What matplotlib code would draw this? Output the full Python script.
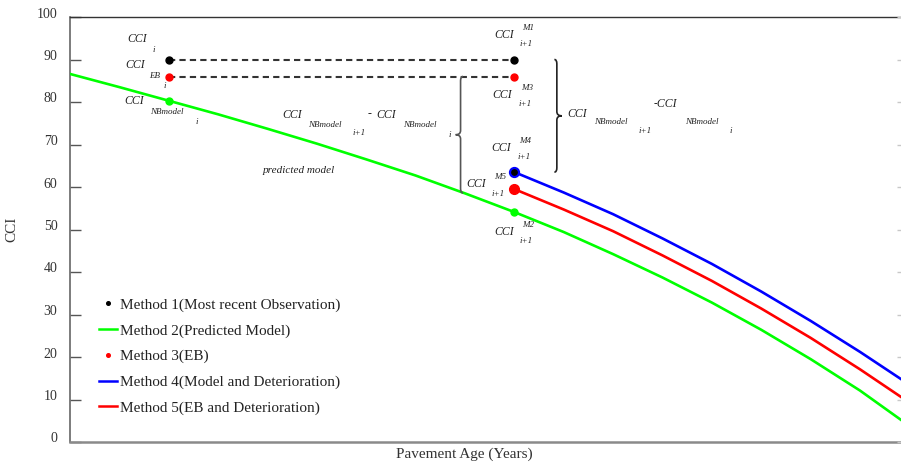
import matplotlib
matplotlib.use("Agg")
import matplotlib.pyplot as plt
from matplotlib.lines import Line2D
from matplotlib.path import Path
from matplotlib.patches import PathPatch
from matplotlib.transforms import ScaledTranslation

plt.rcParams["font.family"] = ["Liberation Serif", "DejaVu Serif"]

# ---- data -------------------------------------------------------------
# predicted (NB) model curve, Method 2
age_model = [0, 1, 2, 3, 4, 5, 6, 7, 8, 9, 10, 11, 12, 13, 14, 15, 16, 16.83]
cci_model = [86.6, 83.5, 80.3, 77.1, 73.7, 70.2, 66.5, 62.7, 58.5, 54.1,
             49.4, 44.2, 38.7, 32.8, 26.4, 19.5, 12.1, 5.2]

# deterioration curves starting at the i+1 inspection
age_det = [9, 10, 11, 12, 13, 14, 15, 16, 16.83]
cci_m4 = [63.5, 58.7, 53.6, 47.9, 41.9, 35.4, 28.5, 21.2, 14.8]  # model and deterioration
cci_m5 = [59.5, 54.7, 49.6, 43.9, 37.9, 31.4, 24.5, 17.1, 10.6]  # EB and deterioration

age_i, age_next = 2, 9
cci_obs_i = 90          # most recent observation
cci_eb_i = 86           # empirical Bayes estimate
cci_model_i = cci_model[2]
cci_model_next = cci_model[9]

y_ticks = [0, 10, 20, 30, 40, 50, 60, 70, 80, 90, 100]
legend_labels = [
    "Method 1(Most recent Observation)",
    "Method 2(Predicted Model)",
    "Method 3(EB)",
    "Method 4(Model and Deterioration)",
    "Method 5(EB and Deterioration)",
]

GREEN, BLUE, RED = "#00ff00", "#0000ff", "#ff0000"

# ---- figure -----------------------------------------------------------
fig = plt.figure(figsize=(9.01, 4.67), dpi=100)
ax = fig.add_axes([70 / 901, 1 - 442 / 467, 831 / 901, 425 / 467])
ax.set_xlim(0, 16.83)
ax.set_ylim(0, 100)

ax.plot(age_model, cci_model, color=GREEN, lw=1.9, zorder=3)
ax.plot(age_det, cci_m4, color=BLUE, lw=1.9, zorder=3)
ax.plot(age_det, cci_m5, color=RED, lw=1.9, zorder=3)

# dashed carry-over of observation and EB value
dash = dict(color="#333333", lw=1.5, linestyle=(0, (3, 2)), zorder=2)
ax.plot([age_i, age_next], [cci_obs_i, cci_obs_i], **dash)
ax.plot([age_i, age_next], [cci_eb_i, cci_eb_i], **dash)

# points
ax.plot(age_i, cci_obs_i, "o", color="black", ms=5, zorder=5)
ax.plot(age_i, cci_eb_i, "o", color=RED, ms=5, zorder=5)
ax.plot(age_i, cci_model_i, "o", color=GREEN, ms=5, zorder=5)
ax.plot(age_next, cci_obs_i, "o", color="black", ms=5, zorder=5)
ax.plot(age_next, cci_eb_i, "o", color=RED, ms=5, zorder=5)
ax.plot(age_next, cci_m4[0], "o", mfc="black", mec=BLUE, mew=1.6, ms=6.5, zorder=5)
ax.plot(age_next, cci_m5[0], "o", color=RED, ms=7, zorder=5)
ax.plot(age_next, cci_model_next, "o", color=GREEN, ms=5, zorder=5)


def brace(x, y_top, y_bot, depth, color, lw):
    """Curly brace spanning y_top..y_bot; depth<0 points left, >0 right."""
    ym = (y_top + y_bot) / 2
    verts = [
        (x - depth * 0.5, y_top), (x, y_top), (x, y_top - 1.0),
        (x, ym + 1.0), (x, ym), (x + depth, ym),
        (x, ym), (x, ym - 1.0),
        (x, y_bot + 1.0), (x, y_bot), (x - depth * 0.5, y_bot),
    ]
    codes = [Path.MOVETO, Path.CURVE3, Path.CURVE3,
             Path.LINETO, Path.CURVE3, Path.CURVE3,
             Path.CURVE3, Path.CURVE3,
             Path.LINETO, Path.CURVE3, Path.CURVE3]
    ax.add_patch(PathPatch(Path(verts, codes), fill=False, ec=color, lw=lw,
                           zorder=4, capstyle="butt"))
    return x + depth, ym


tip_l = brace(age_next - 1.09, cci_eb_i, cci_m5[0] - 0.9, -0.1, "#555555", 1.2)
tip_r = brace(age_next + 0.86, cci_obs_i, cci_m4[0], 0.1, "#222222", 1.2)


def lab(xy, dx, dy, s, size=8.5, italic=True):
    ax.annotate(s, xy=xy, xytext=(dx, dy), textcoords="offset pixels",
                ha="center", va="center", fontsize=size,
                style="italic" if italic else "normal", color="#222222",
                zorder=6)


SM = 6.5
# labels at inspection i
lab((age_i, cci_obs_i), -31.5, 20, "CCI")
lab((age_i, cci_obs_i), -15, 10, "i", SM)
lab((age_i, cci_eb_i), -34, 11, "CCI")
lab((age_i, cci_eb_i), -14.3, 1, "EB", SM)
lab((age_i, cci_eb_i), -3.7, -9.7, "i", SM)
lab((age_i, cci_model_i), -35, -0.7, "CCI")
lab((age_i, cci_model_i), -2.2, -11.7, "NBmodel", SM)
lab((age_i, cci_model_i), 27.7, -21.7, "i", SM)

# labels at inspection i+1
for y, sup, (cx, cy), (mx, my), (ix, iy) in [
    (cci_obs_i, "M1", (-10.2, 25), (13.5, 31.7), (11.8, 15.7)),
    (cci_eb_i, "M3", (-11.8, -18), (12.3, -11.7), (10.7, -27.3)),
    (cci_m4[0], "M4", (-13.5, 24.3), (11.2, 31.3), (9.3, 15.3)),
    (cci_m5[0], "M5", (-38.5, 4.7), (-14.5, 11.7), (-16, -5)),
    (cci_model_next, "M2", (-10.5, -19.7), (13.5, -13), (12, -29)),
]:
    lab((age_next, y), cx, cy, "CCI")
    lab((age_next, y), mx, my, sup, SM)
    lab((age_next, y), ix, iy, "i+1", SM)

# difference text beside the left brace
lab(tip_l, -163, 20, "CCI")
lab(tip_l, -130.5, 10, "NBmodel", SM)
lab(tip_l, -97, 2, "i+1", SM)
lab(tip_l, -86, 21, "-", 8.5, italic=False)
lab(tip_l, -69, 20, "CCI")
lab(tip_l, -35.5, 10, "NBmodel", SM)
lab(tip_l, -6, 0, "i", SM)

# difference text beside the right brace
lab(tip_r, 15.8, 1.7, "CCI")
lab(tip_r, 48.8, -6.3, "NBmodel", SM)
lab(tip_r, 83.3, -15.3, "i+1", SM)
lab(tip_r, 103.8, 11.7, "-CCI")
lab(tip_r, 140.3, -6.3, "NBmodel", SM)
lab(tip_r, 169.3, -15.3, "i", SM)

ax.text(4.63, 63.8, "predicted model", fontsize=8, style="italic",
        ha="center", va="center", color="#222222")

# ---- axes styling -----------------------------------------------------
ax.set_xticks([])
ax.set_yticks(y_ticks)
ax.tick_params(axis="y", direction="in", length=8, width=1, color="#555555",
               pad=9, labelsize=10, labelcolor="#333333")
ax.spines["right"].set_visible(False)
ax.spines["top"].set_color("#333333")
ax.spines["top"].set_linewidth(1.0)
ax.spines["left"].set_color("#666666")
ax.spines["left"].set_linewidth(1.2)
ax.spines["bottom"].set_color("#8a8a8a")
ax.spines["bottom"].set_linewidth(1.8)

# faint ticks along the right edge
ax_r = ax.twinx()
ax_r.set_ylim(0, 100)
ax_r.set_yticks(y_ticks)
ax_r.tick_params(axis="y", direction="in", length=3, width=1,
                 color="#c8c8c8", labelright=False)
for sp in ax_r.spines.values():
    sp.set_visible(False)

ax.set_ylabel("CCI", fontsize=11, color="#333333")
ax.yaxis.set_label_coords(-0.0626, 0.5)
ax.set_xlabel("Pavement Age (Years)", fontsize=11, color="#333333")
ax.xaxis.set_label_coords(0.475, -0.03)
ax.xaxis.label.set_va("center")

shift = ScaledTranslation(0, 0.045, fig.dpi_scale_trans)
for lbl in ax.get_yticklabels():
    lbl.set_transform(lbl.get_transform() + shift)

handles = [
    Line2D([], [], marker="o", ls="none", color="black", ms=2.6),
    Line2D([], [], color=GREEN, lw=1.8),
    Line2D([], [], marker="o", ls="none", color=RED, ms=2.6),
    Line2D([], [], color=BLUE, lw=1.8),
    Line2D([], [], color=RED, lw=1.8),
]
fig.legend(handles, legend_labels, loc="upper left",
           bbox_to_anchor=(99 / 901, 1 - 298 / 467), frameon=False,
           fontsize=11, borderpad=0, handlelength=1.2, handletextpad=0.15,
           labelspacing=0.78, borderaxespad=0, labelcolor="#222222")

fig.savefig("out.png", dpi=100)
